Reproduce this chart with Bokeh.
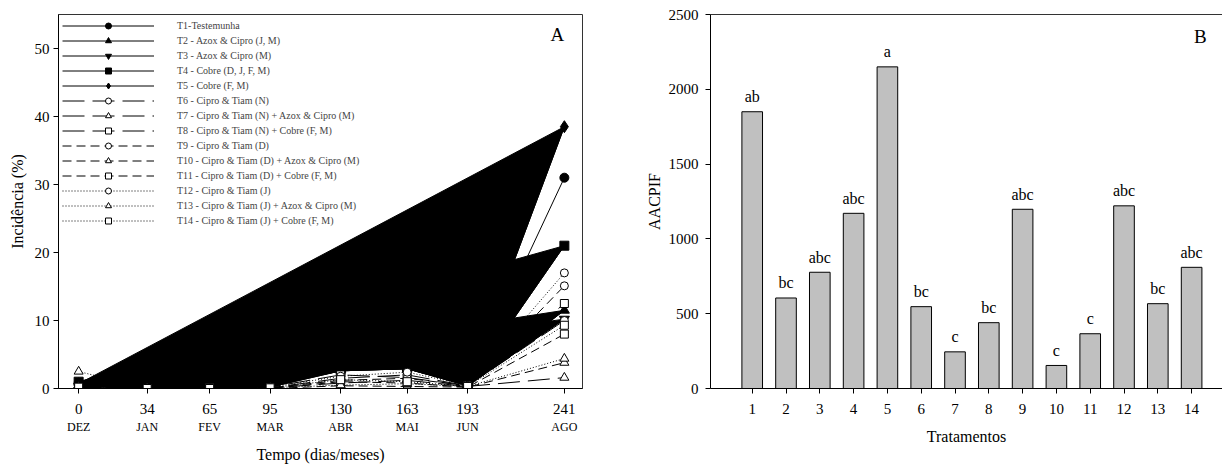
from bokeh.plotting import figure
from bokeh.models import ColumnDataSource, FixedTicker, LinearAxis, Legend, LegendItem, Label, Range1d
from bokeh.layouts import row
from bokeh.embed import file_html
from bokeh.resources import INLINE
from bokeh.core.properties import value

# ---------------- data: panel A ----------------
days = [0, 34, 65, 95, 130, 163, 193, 241]
months = ["DEZ", "JAN", "FEV", "MAR", "ABR", "MAI", "JUN", "AGO"]

t1 = [0.8, 0.1, 0.2, 0.5, 3.0, 3.2, 0.6, 31.0]
t2 = [0.5, 0.0, 0.1, 0.3, 2.8, 3.0, 0.5, 11.5]
t3 = [0.3, 0.0, 0.1, 0.2, 2.6, 2.9, 0.4, 10.2]
t4 = [1.0, 0.1, 0.3, 0.4, 2.7, 3.0, 0.5, 21.0]
t5 = [0.7, 0.2, 0.5, 0.5, 2.6, 2.9, 0.5, 38.5]
t6 = [0.2, 0.0, 0.0, 0.1, 1.5, 2.0, 0.4, 10.0]
t7 = [0.3, 0.0, 0.0, 0.1, 0.8, 1.2, 0.3, 1.6]
t8 = [0.2, 0.0, 0.0, 0.2, 2.0, 1.6, 0.4, 12.5]
t9 = [0.1, 0.0, 0.0, 0.1, 1.2, 1.5, 0.4, 15.1]
t10 = [0.1, 0.0, 0.0, 0.0, 0.4, 0.3, 0.2, 3.8]
t11 = [0.1, 0.0, 0.1, 0.0, 1.0, 0.8, 0.2, 8.0]
t12 = [0.0, 0.0, 0.0, 0.2, 1.8, 2.4, 0.5, 17.0]
t13 = [2.5, 0.0, 0.0, 0.1, 0.5, 0.7, 0.3, 4.4]
t14 = [0.2, 0.0, 0.0, 0.1, 1.3, 1.0, 0.3, 9.3]

series_labels = [
    "T1-Testemunha",
    "T2 - Azox & Cipro (J, M)",
    "T3 - Azox & Cipro (M)",
    "T4 - Cobre (D, J, F, M)",
    "T5 - Cobre (F, M)",
    "T6 - Cipro & Tiam (N)",
    "T7 - Cipro & Tiam (N) + Azox & Cipro (M)",
    "T8 - Cipro & Tiam (N) + Cobre (F, M)",
    "T9 - Cipro & Tiam (D)",
    "T10 - Cipro & Tiam (D) + Azox & Cipro (M)",
    "T11 - Cipro & Tiam (D) + Cobre (F, M)",
    "T12 - Cipro & Tiam (J)",
    "T13 - Cipro & Tiam (J) + Azox & Cipro (M)",
    "T14 - Cipro & Tiam (J) + Cobre (F, M)",
]

# ---------------- data: panel B ----------------
treatments = [1, 2, 3, 4, 5, 6, 7, 8, 9, 10, 11, 12, 13, 14]
aacpif = [1850, 605, 777, 1171, 2150, 547, 245, 440, 1198, 154, 366, 1221, 567, 810]
letters = ["ab", "bc", "abc", "abc", "a", "bc", "c", "bc", "abc", "c", "c", "abc", "bc", "abc"]

FONT = "Liberation Serif"

# ---------------- styles ----------------
series = [t1, t2, t3, t4, t5, t6, t7, t8, t9, t10, t11, t12, t13, t14]
markers = ["circle", "triangle", "inverted_triangle", "square", "diamond",
           "circle", "triangle", "square", "circle", "triangle", "square",
           "circle", "triangle", "square"]
sizes = [9, 10, 10, 9, 12, 8, 9, 8, 8, 9, 8, 8, 9, 8]
fills = ["black"] * 5 + ["white"] * 9
dashes = ["solid"] * 5 + ["22 8"] * 3 + ["9 5"] * 3 + ["1 2"] * 3


def style_axis(ax, size="15px"):
    ax.major_label_text_font = FONT
    ax.major_label_text_font_size = size
    ax.major_label_text_color = "black"
    ax.axis_label_text_font = FONT
    ax.axis_label_text_font_style = "normal"
    ax.axis_label_text_font_size = "16px"
    ax.axis_label_text_color = "black"
    ax.minor_tick_line_color = None
    ax.major_tick_in = 0
    ax.major_tick_out = 5
    ax.axis_line_color = "black"
    ax.major_tick_line_color = "black"


# ---------------- panel A ----------------
pa = figure(width=600, height=466, output_backend="svg", toolbar_location=None,
            x_range=Range1d(-10, 250), y_range=Range1d(0, 55),
            min_border_left=58, min_border_right=18, min_border_top=14, min_border_bottom=78)
pa.xgrid.visible = False
pa.ygrid.visible = False
pa.outline_line_color = "#333333"

pa.patches(xs=[days, days, days, days], ys=[t2, t3, t4, t5],
           fill_color="black", line_color="black", line_width=1)

items = []
for vals, lab, mk, sz, fc, ds in zip(series, series_labels, markers, sizes, fills, dashes):
    src = ColumnDataSource(dict(x=days, y=vals))
    lr = pa.line("x", "y", source=src, line_color="black", line_width=1, line_dash=ds)
    sr = pa.scatter("x", "y", source=src, marker=mk, size=sz, fill_color=fc,
                    line_color="black", line_width=1)
    items.append(LegendItem(label=lab, renderers=[lr, sr]))

legend = Legend(items=items, location="top_left", margin=0, padding=4,
                glyph_width=92, glyph_height=15, label_height=15, spacing=0,
                label_standoff=23, label_text_font=FONT, label_text_font_size="10px",
                background_fill_alpha=0, border_line_alpha=0)
pa.add_layout(legend)

ya = pa.left[0]
ya.ticker = FixedTicker(ticks=[0, 10, 20, 30, 40, 50])
ya.axis_label = "Incidência (%)"
style_axis(ya)
ya.major_label_standoff = 4
ya.axis_label_standoff = 6

xa = pa.below[0]
xa.ticker = FixedTicker(ticks=days)
style_axis(xa)
xa.major_label_standoff = 10

month_axis = LinearAxis(ticker=FixedTicker(ticks=days),
                        major_label_overrides={d: m for d, m in zip(days, months)})
style_axis(month_axis, "12px")
month_axis.axis_line_color = None
month_axis.major_tick_line_color = None
month_axis.major_tick_out = 0
month_axis.major_label_standoff = 3
month_axis.axis_label = "Tempo (dias/meses)"
month_axis.axis_label_standoff = 9
pa.add_layout(month_axis, "below")

pa.add_layout(Label(x=237.5, y=52, text="A", text_align="center", text_baseline="middle",
                    text_font=FONT, text_font_size="19px", text_color="black"))

# ---------------- panel B ----------------
pb = figure(width=622, height=466, output_backend="svg", toolbar_location=None,
            x_range=Range1d(-0.234, 14.914), y_range=Range1d(0, 2500),
            min_border_left=110, min_border_right=0, min_border_top=14, min_border_bottom=78)
pb.xgrid.visible = False
pb.ygrid.visible = False
pb.outline_line_color = None

bsrc = ColumnDataSource(dict(x=treatments, top=aacpif, lab=letters))
pb.vbar(x="x", top="top", bottom=0, width=0.61, source=bsrc,
        fill_color="#c0c0c0", line_color="black", line_width=1)
pb.text(x="x", y="top", text="lab", source=bsrc, text_align="center",
        text_baseline="alphabetic", y_offset=-15, text_font=value(FONT),
        text_font_size=value("16px"), text_color="black")

yb = pb.left[0]
yb.ticker = FixedTicker(ticks=[0, 500, 1000, 1500, 2000, 2500])
yb.axis_label = "AACPIF"
style_axis(yb)
yb.major_label_standoff = 7
yb.axis_label_standoff = 3

xb = pb.below[0]
xb.ticker = FixedTicker(ticks=treatments)
xb.axis_label = "Tratamentos"
style_axis(xb)
xb.major_label_standoff = 10
xb.axis_label_standoff = 11

top_axis = LinearAxis(ticker=FixedTicker(ticks=[]), axis_line_color="#333333",
                      major_tick_line_color=None, minor_tick_line_color=None,
                      major_label_text_color=None, major_label_text_font_size="1px",
                      major_label_standoff=0, major_tick_out=0, major_tick_in=0)
pb.add_layout(top_axis, "above")

pb.add_layout(Label(x=14.26, y=2354, text="B", text_align="center", text_baseline="middle",
                    text_font=FONT, text_font_size="19px", text_color="black"))

layout = row(pa, pb)
open("out.html", "w").write(file_html(layout, INLINE))
